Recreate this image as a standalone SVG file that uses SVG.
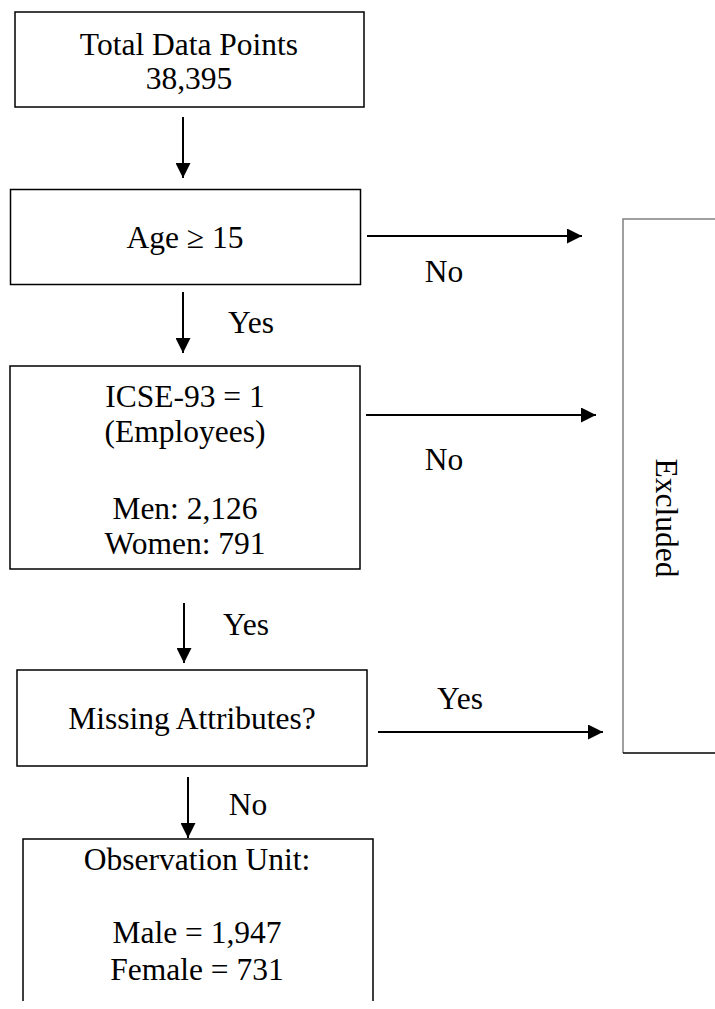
<svg xmlns="http://www.w3.org/2000/svg" width="715" height="1009" viewBox="0 0 715 1009">
<style>
  .box { fill: #ffffff; stroke: #000000; stroke-width: 1.5; }
  .t { font-family: "Liberation Serif", "Times New Roman", serif; font-size: 31.5px; fill: #000000; text-anchor: middle; }
  .conn { stroke: #000000; stroke-width: 2; fill: none; marker-end: url(#ah); }
</style>
<defs>
  <marker id="ah" viewBox="0 0 15 15" markerWidth="15" markerHeight="15" refX="15" refY="7.5" orient="auto" markerUnits="userSpaceOnUse">
    <path d="M0,0 L15,7.5 L0,15 z" fill="#000000"/>
  </marker>
</defs>
<rect width="715" height="1009" fill="#ffffff"/>

<g id="node-total">
  <rect class="box" x="15" y="12" width="349" height="95"/>
  <text class="t" x="189" y="55">Total Data Points</text>
  <text class="t" x="189" y="89">38,395</text>
</g>

<g id="node-age">
  <rect class="box" x="10.5" y="189.5" width="350" height="95"/>
  <text class="t" x="185" y="248">Age ≥ 15</text>
</g>

<g id="node-icse">
  <rect class="box" x="10" y="366" width="350" height="203"/>
  <text class="t" x="185" y="407">ICSE-93 = 1</text>
  <text class="t" x="185" y="442">(Employees)</text>
  <text class="t" x="185" y="519">Men: 2,126</text>
  <text class="t" x="185" y="554">Women: 791</text>
</g>

<g id="node-missing">
  <rect class="box" x="17" y="670" width="350" height="96"/>
  <text class="t" x="192" y="729">Missing Attributes?</text>
</g>

<g id="node-observation">
  <path d="M23,1001 L23,839 L373,839 L373,1001" fill="none" stroke="#000000" stroke-width="1.5"/>
  <text class="t" x="197" y="870">Observation Unit:</text>
  <text class="t" x="197" y="943">Male = 1,947</text>
  <text class="t" x="197" y="980">Female = 731</text>
</g>

<g id="node-excluded">
  <path d="M623,753 L623,219 L716,219" fill="none" stroke="#808080" stroke-width="1.5"/>
  <path d="M623,753 L716,753" fill="none" stroke="#000000" stroke-width="1.5"/>
  <text class="t" transform="translate(656,518) rotate(90)" x="0" y="0">Excluded</text>
</g>

<g id="connectors">
  <line class="conn" x1="183" y1="117" x2="183" y2="178"/>
  <line class="conn" x1="367" y1="236" x2="582" y2="236"/>
  <line class="conn" x1="183" y1="292" x2="183" y2="353"/>
  <line class="conn" x1="366" y1="415" x2="596" y2="415"/>
  <line class="conn" x1="184" y1="603" x2="184" y2="663"/>
  <line class="conn" x1="378" y1="732" x2="603" y2="732"/>
  <line class="conn" x1="188" y1="777" x2="188" y2="838"/>
  <text class="t" x="444" y="282">No</text>
  <text class="t" x="251" y="333">Yes</text>
  <text class="t" x="444" y="470">No</text>
  <text class="t" x="246" y="635">Yes</text>
  <text class="t" x="460" y="709">Yes</text>
  <text class="t" x="248" y="815">No</text>
</g>
</svg>
